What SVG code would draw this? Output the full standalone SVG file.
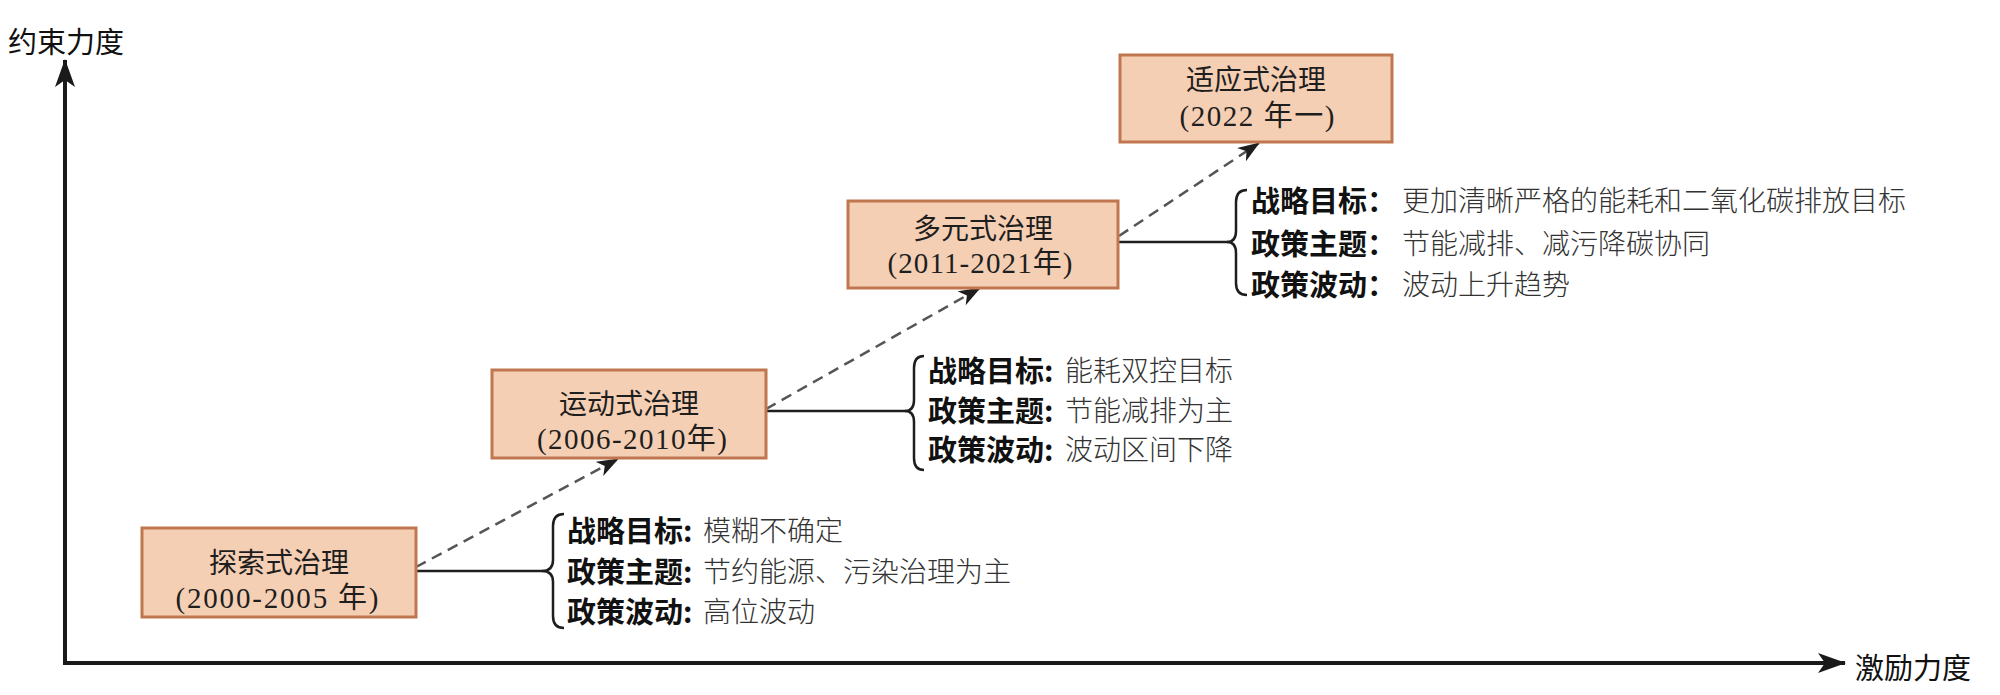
<svg xmlns="http://www.w3.org/2000/svg" width="2000" height="695" viewBox="0 0 2000 695">
<defs>
<style>
.box{fill:#f5cfb4;stroke:#c0764e;stroke-width:3}
.title{font-family:"Noto Sans CJK SC","Liberation Serif",sans-serif;font-size:28px;fill:#1e1e1e;text-anchor:middle;dominant-baseline:central}
.year{font-family:"Liberation Serif","Noto Sans CJK SC",serif;font-size:29px;fill:#1e1e1e;text-anchor:middle;dominant-baseline:central}
.lab{font-family:"Noto Sans CJK SC",sans-serif;font-size:29px;font-weight:bold;fill:#111;dominant-baseline:central}
.val{font-family:"Noto Sans CJK SC",sans-serif;font-size:28px;font-weight:300;fill:#333;dominant-baseline:central}
.axislab{font-family:"Noto Sans CJK SC",sans-serif;font-size:29px;fill:#111;dominant-baseline:central}
.axis{stroke:#1a1a1a;stroke-width:4;fill:none}
.link{stroke:#1e1e1e;stroke-width:2.5;fill:none}
.dash{stroke:#555;stroke-width:2.5;fill:none;stroke-dasharray:11 7}
</style>
<marker id="axArrow" viewBox="0 0 28 20" refX="27" refY="10" markerWidth="28" markerHeight="20" markerUnits="userSpaceOnUse" orient="auto">
<path d="M0,0 L28,10 L0,20 L7,10 z" fill="#1a1a1a"/>
</marker>
<marker id="dArrow" viewBox="0 0 22 16" refX="21" refY="8" markerWidth="22" markerHeight="16" markerUnits="userSpaceOnUse" orient="auto">
<path d="M0,0 L22,8 L0,16 L6,8 z" fill="#1e1e1e"/>
</marker>
</defs>
<rect width="2000" height="695" fill="#ffffff"/>

<g id="axes">
<line class="axis" x1="65" y1="663" x2="65" y2="60" marker-end="url(#axArrow)"/>
<line class="axis" x1="63" y1="663" x2="1845" y2="663" marker-end="url(#axArrow)"/>
<text class="axislab" x="8" y="40">约束力度</text>
<text class="axislab" x="1855" y="666">激励力度</text>
</g>

<g id="connectors">
<line class="dash" x1="416" y1="567" x2="618" y2="459" marker-end="url(#dArrow)"/>
<line class="dash" x1="766" y1="409" x2="980" y2="288" marker-end="url(#dArrow)"/>
<line class="dash" x1="1119" y1="236" x2="1259" y2="143" marker-end="url(#dArrow)"/>
<line class="link" x1="416" y1="571" x2="543" y2="571"/>
<line class="link" x1="766" y1="411" x2="906" y2="411"/>
<line class="link" x1="1119" y1="242" x2="1228" y2="242"/>
<path class="link" d="M564,514 Q553,514 553,526 L553,560 Q553,571 542,571 Q553,571 553,582 L553,616 Q553,628 564,628"/>
<path class="link" d="M924,356 Q914,356 914,368 L914,400 Q914,411 905,411 Q914,411 914,422 L914,458 Q914,470 924,470"/>
<path class="link" d="M1247,190 Q1236,190 1236,202 L1236,231 Q1236,242 1227,242 Q1236,242 1236,253 L1236,283 Q1236,295 1247,295"/>
</g>

<g id="node1">
<rect class="box" x="142" y="528" width="274" height="89"/>
<text class="title" x="279" y="561">探索式治理</text>
<text class="year" x="277" y="598" textLength="203" lengthAdjust="spacing">(2000-2005 年)</text>
</g>
<g id="node2">
<rect class="box" x="492" y="370" width="274" height="88"/>
<text class="title" x="629" y="402">运动式治理</text>
<text class="year" x="632" y="439" textLength="190" lengthAdjust="spacing">(2006-2010年)</text>
</g>
<g id="node3">
<rect class="box" x="848" y="201" width="270" height="87"/>
<text class="title" x="983" y="227">多元式治理</text>
<text class="year" x="980" y="263" textLength="185" lengthAdjust="spacing">(2011-2021年)</text>
</g>
<g id="node4">
<rect class="box" x="1120" y="55" width="272" height="87"/>
<text class="title" x="1256" y="78">适应式治理</text>
<text class="year" x="1257" y="116" textLength="155" lengthAdjust="spacing">(2022 年一)</text>
</g>

<g id="info1">
<text class="lab" x="567" y="529">战略目标:</text><text class="val" x="703" y="529">模糊不确定</text>
<text class="lab" x="567" y="570">政策主题:</text><text class="val" x="703" y="570">节约能源、污染治理为主</text>
<text class="lab" x="567" y="610">政策波动:</text><text class="val" x="703" y="610">高位波动</text>
</g>
<g id="info2">
<text class="lab" x="928" y="369">战略目标:</text><text class="val" x="1065" y="369">能耗双控目标</text>
<text class="lab" x="928" y="409">政策主题:</text><text class="val" x="1065" y="409">节能减排为主</text>
<text class="lab" x="928" y="448">政策波动:</text><text class="val" x="1065" y="448">波动区间下降</text>
</g>
<g id="info3">
<text class="lab" x="1251" y="199">战略目标：</text><text class="val" x="1402" y="199">更加清晰严格的能耗和二氧化碳排放目标</text>
<text class="lab" x="1251" y="242">政策主题：</text><text class="val" x="1402" y="242">节能减排、减污降碳协同</text>
<text class="lab" x="1251" y="283">政策波动：</text><text class="val" x="1402" y="283">波动上升趋势</text>
</g>
</svg>
